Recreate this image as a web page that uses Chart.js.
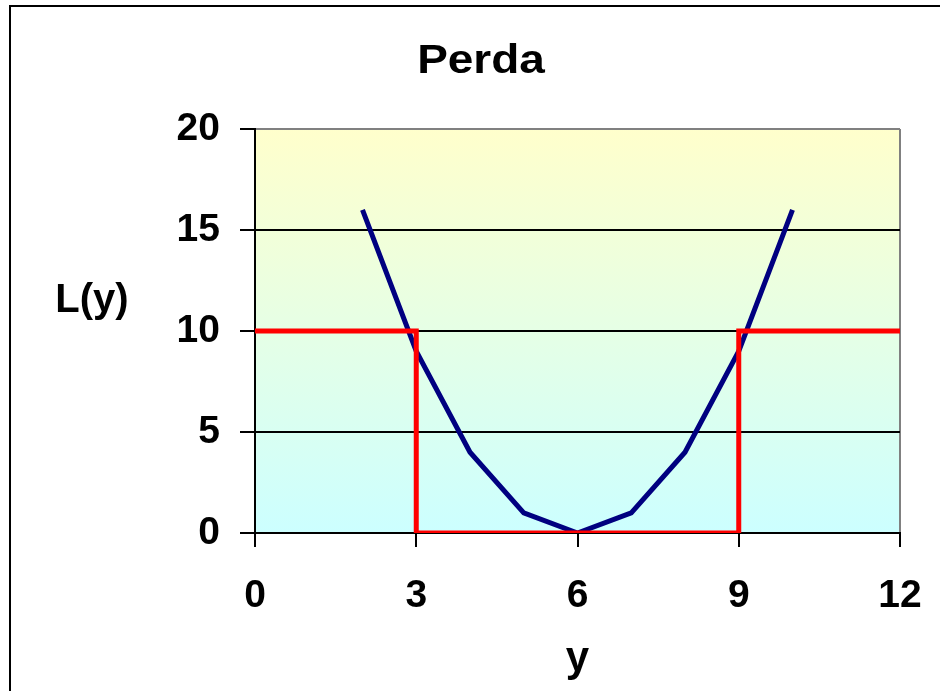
<!DOCTYPE html>
<html><head><meta charset="utf-8">
<script src="https://cdn.jsdelivr.net/npm/chart.js@4/dist/chart.umd.min.js"></script>
<style>html,body{margin:0;padding:0;background:#fff}canvas{display:block}</style>
</head><body>
<canvas id="c" width="940" height="691"></canvas>
<script>
const lossX = [2, 3, 4, 5, 6, 7, 8, 9, 10];
const lossY = [16, 9, 4, 1, 0, 1, 4, 9, 16];
const stepX = [0, 3, 3, 9, 9, 12];
const stepY = [10, 10, 0, 0, 10, 10];
const xTicks = [0, 3, 6, 9, 12];
const yTicks = [0, 5, 10, 15, 20];
const chartTitle = 'Perda';
const xTitle = 'y';
const yTitle = 'L(y)';
const FONT = '"Liberation Sans", Arial, sans-serif';

const decorPlugin = {
  id: 'decor',
  beforeDraw(chart) {
    const {ctx, chartArea: a} = chart;
    ctx.save();
    ctx.fillStyle = '#fff';
    ctx.fillRect(0, 0, chart.width, chart.height);
    const g = ctx.createLinearGradient(0, a.top, 0, a.bottom);
    g.addColorStop(0, '#FFFFCC');
    g.addColorStop(1, '#CCFFFF');
    ctx.fillStyle = g;
    ctx.fillRect(a.left, a.top, a.right - a.left, a.bottom - a.top);
    ctx.restore();
  },
  afterDraw(chart) {
    const ctx = chart.ctx;
    ctx.save();
    ctx.strokeStyle = '#000';
    ctx.lineWidth = 2;
    ctx.strokeRect(10, 6, chart.width + 20, chart.height + 20);
    ctx.fillStyle = '#000';
    ctx.textAlign = 'center';
    ctx.textBaseline = 'alphabetic';
    ctx.font = 'bold 41px ' + FONT;
    ctx.save();
    ctx.translate(481, 73);
    ctx.scale(1.12, 1);
    ctx.fillText(chartTitle, 0, 0);
    ctx.restore();
    ctx.font = 'bold 40px ' + FONT;
    ctx.fillText(yTitle, 92, 312);
    ctx.restore();
  }
};

new Chart(document.getElementById('c'), {
  type: 'scatter',
  data: {
    datasets: [
      {
        label: 'L(y)',
        data: lossX.map((x, i) => ({x: x, y: lossY[i]})),
        showLine: true,
        borderColor: '#000080',
        backgroundColor: '#000080',
        borderWidth: 5,
        pointRadius: 0,
        tension: 0,
        order: 1
      },
      {
        label: 'limite',
        data: stepX.map((x, i) => ({x: x, y: stepY[i]})),
        showLine: true,
        borderColor: '#FF0000',
        backgroundColor: '#FF0000',
        borderWidth: 5,
        pointRadius: 0,
        tension: 0,
        order: 0
      }
    ]
  },
  options: {
    responsive: false,
    animation: false,
    events: [],
    layout: {padding: {top: 129, right: 40, left: 0, bottom: 0}},
    plugins: {legend: {display: false}, tooltip: {enabled: false}, title: {display: false}},
    scales: {
      x: {
        type: 'linear',
        min: 0, max: 12,
        z: 1,
        afterBuildTicks: s => { s.ticks = xTicks.map(v => ({value: v})); },
        afterFit: s => { s.height = 158; s.paddingLeft = 0; s.paddingRight = 0; },
        ticks: {
          font: {family: FONT, size: 39, weight: 'bold'},
          color: '#000',
          padding: 26,
          maxRotation: 0,
          autoSkip: false
        },
        grid: {
          color: c => (c.tick && c.tick.value === 12) ? '#808080' : 'rgba(0,0,0,0)',
          lineWidth: 2,
          tickColor: '#000',
          tickLength: 14,
          drawOnChartArea: true
        },
        border: {color: '#000', width: 2},
        title: {
          display: true,
          text: xTitle,
          color: '#000',
          font: {family: FONT, size: 42, weight: 'bold'},
          padding: {top: 0, bottom: 6}
        }
      },
      y: {
        type: 'linear',
        min: 0, max: 20,
        afterBuildTicks: s => { s.ticks = yTicks.map(v => ({value: v})); },
        afterFit: s => { s.width = 255; s.paddingTop = 0; s.paddingBottom = 0; },
        ticks: {
          font: {family: FONT, size: 39, weight: 'bold'},
          color: '#000',
          padding: 20,
          autoSkip: false
        },
        grid: {
          color: c => (c.tick && c.tick.value === 20) ? '#808080' : '#000',
          lineWidth: 2,
          tickColor: '#000',
          tickLength: 15
        },
        border: {color: '#000', width: 2}
      }
    }
  },
  plugins: [decorPlugin]
});
</script>
</body></html>
